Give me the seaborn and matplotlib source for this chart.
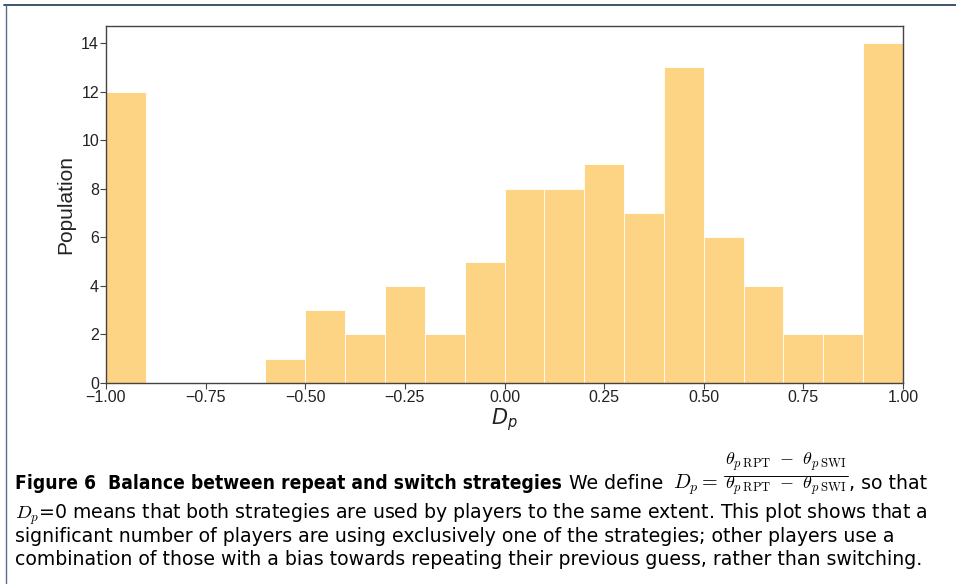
import numpy as np
import pandas as pd
from matplotlib import pyplot as plt
from matplotlib.lines import Line2D
import seaborn as sns

# histogram of D_p, 20 bins of width 0.1 between -1 and 1
bin_edges = [-1.0, -0.9, -0.8, -0.7, -0.6, -0.5, -0.4, -0.3, -0.2, -0.1, 0.0,
             0.1, 0.2, 0.3, 0.4, 0.5, 0.6, 0.7, 0.8, 0.9, 1.0]
counts = [12, 0, 0, 0, 1, 3, 2, 4, 2, 5, 8, 8, 9, 7, 13, 6, 4, 2, 2, 14]
x_ticks = [-1.0, -0.75, -0.5, -0.25, 0.0, 0.25, 0.5, 0.75, 1.0]
y_ticks = [0, 2, 4, 6, 8, 10, 12, 14]

centers = [(a + b) / 2 for a, b in zip(bin_edges[:-1], bin_edges[1:])]
df = pd.DataFrame({'Dp': centers, 'n': counts})

sns.set_style('ticks')
plt.rcParams['font.family'] = ['Liberation Sans', 'DejaVu Sans']
plt.rcParams['text.color'] = 'black'

fig = plt.figure(figsize=(9.56, 5.84), dpi=100)
ax = fig.add_axes([106 / 956, 1 - 383 / 584, (903 - 106) / 956, (383 - 26) / 584])

sns.histplot(data=df, x='Dp', weights='n', bins=bin_edges, color='#fdc865',
             alpha=0.8, edgecolor='white', linewidth=0.6, ax=ax)

ax.set_xlim(-1, 1)
ax.set_ylim(0, 14.7)
ax.set_xticks(x_ticks)
ax.set_xticklabels([f'{t:.2f}'.replace('-', '\u2212') for t in x_ticks])
ax.set_yticks(y_ticks)
ax.tick_params(labelsize=11.5, length=4, width=0.8, color='#444444', pad=1,
               labelcolor='#222222')
for s in ax.spines.values():
    s.set_visible(True)
    s.set_color('#444444')
    s.set_linewidth(1.0)
ax.set_xlabel('$D_p$', fontsize=15, labelpad=1, color='#222222')
ax.set_ylabel('Population', fontsize=15, labelpad=4, color='#222222')

# frame lines of the page
fig.add_artist(Line2D([4 / 956, 1], [1 - 5 / 584] * 2, color='#1b3555', lw=1.2))
fig.add_artist(Line2D([6 / 956] * 2, [0, 1 - 5 / 584], color='#5a6e8a', lw=1.0))

# caption
cap_font = ['DejaVu Sans']
cap_size = 13.6
fig.canvas.draw()
r = fig.canvas.get_renderer()

def put(x_px, y_px, s, size=cap_size, width=None, **kw):
    t = fig.text(x_px / 956, 1 - y_px / 584, s, fontsize=size, family=cap_font,
                 va='baseline', ha='left', math_fontfamily='cm', color='black', **kw)
    bb = t.get_window_extent(renderer=r)
    if width is not None:
        # shrink/grow the text so that it spans the wanted width
        t.set_fontsize(size * width / bb.width)
        bb = t.get_window_extent(renderer=r)
    return bb.x1

x = put(15, 489, 'Figure 6  Balance between repeat and switch strategies',
        width=546, fontweight='bold', fontstretch='condensed')
x = put(x + 7, 489, 'We define')
x = put(x + 10, 489, r'$D_p =$', size=14.5)

# the fraction, stacked by hand so it stays as flat as in the caption
frac_part = r'$\theta_{p\;\mathrm{RPT}}\;\;{-}\;\;\theta_{p\;\mathrm{SWI}}$'
fx = x + 7
x_end = put(fx, 465, frac_part, size=13)
put(fx, 489, frac_part, size=13)
fig.add_artist(Line2D([(fx - 1) / 956, (x_end + 1) / 956], [1 - 475.5 / 584] * 2,
                      color='black', lw=0.7))
put(x_end + 2, 489, ', so that')
put(15, 519, r'$D_p$=0 means that both strategies are used by players to the same extent. This plot shows that a')
put(15, 542, 'significant number of players are using exclusively one of the strategies; other players use a')
put(15, 565, 'combination of those with a bias towards repeating their previous guess, rather than switching.')

fig.savefig('out.png', dpi=100)
